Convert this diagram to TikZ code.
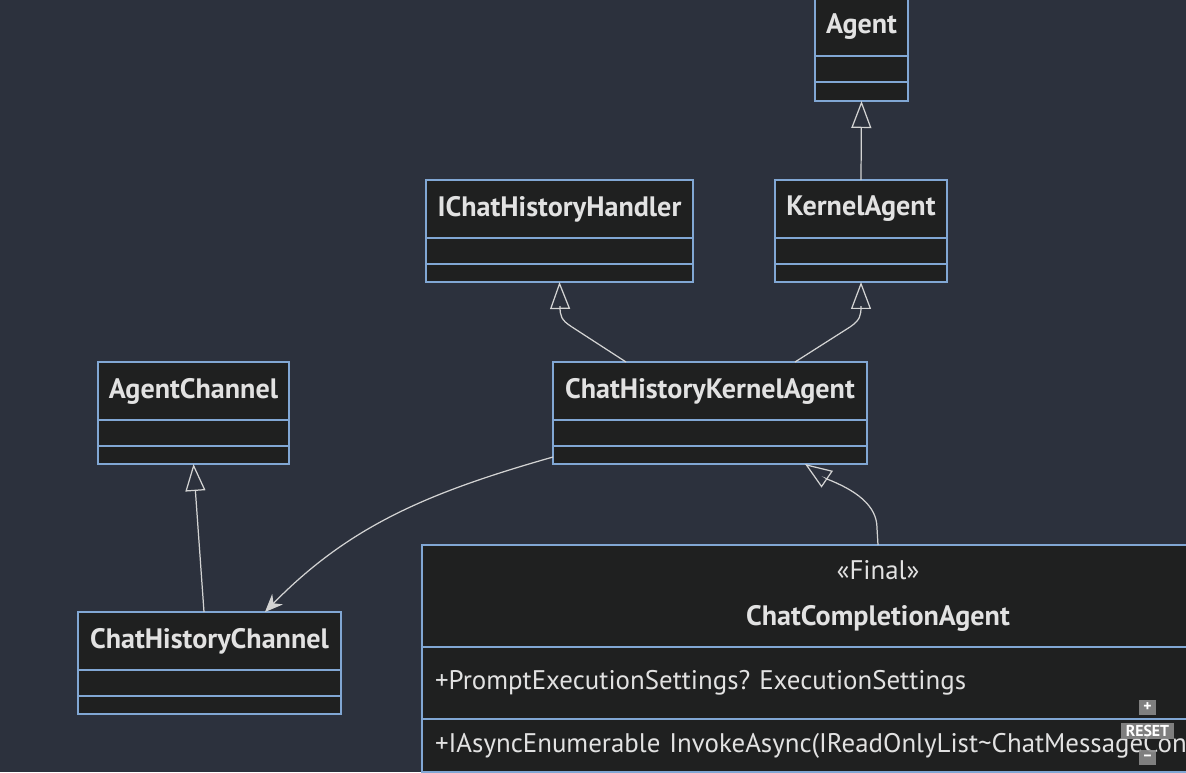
\documentclass[tikz,border=0pt]{standalone}
\usepackage{fontspec}
\setmainfont{PT Sans}
\usetikzlibrary{positioning,arrows.meta}

\definecolor{canvas}{HTML}{2C313D}
\definecolor{boxfill}{HTML}{1F2020}
\definecolor{boxline}{HTML}{81A7D4}
\definecolor{inktext}{HTML}{E2E2E2}
\definecolor{edgeline}{HTML}{D3D3D3}
\definecolor{btnfill}{HTML}{8A8A8A}

\frenchspacing

\begin{document}
\begin{tikzpicture}[
  x=0.02cm, y=-0.02cm,
  font=\fontsize{15.3}{18}\selectfont,
  classhead/.style={
    rectangle,
    draw=boxline,
    fill=boxfill,
    line width=0.8pt,
    text=inktext,
    font=\fontsize{16}{18}\selectfont\bfseries,
    minimum height=1.16cm,
    inner sep=0pt,
    outer sep=0pt,
    anchor=north
  },
  classattr/.style={
    rectangle,
    draw=boxline,
    fill=boxfill,
    line width=0.8pt,
    text=inktext,
    minimum height=0.52cm,
    inner sep=0pt,
    outer sep=0pt
  },
  classmeth/.style={
    classattr,
    minimum height=0.36cm
  },
  inherit/.style={
    -{Triangle[open, length=0.54cm, width=0.4cm]},
    draw=edgeline,
    line width=0.7pt
  },
  assoc/.style={
    -{Stealth[length=0.36cm, width=0.3cm]},
    draw=edgeline,
    line width=0.7pt
  },
  zoombtn/.style={
    rectangle,
    fill=btnfill,
    fill opacity=0.9,
    text opacity=1,
    text=white,
    font=\fontsize{9}{10}\selectfont\bfseries,
    inner sep=0pt,
    minimum width=0.34cm,
    minimum height=0.3cm
  }
]

% Canvas
\useasboundingbox (0,0) rectangle (1186,772);
\clip (0,0) rectangle (1186,772);
\fill[canvas] (0,0) rectangle (1186,772);

% Classes
\node[classhead, minimum width=1.86cm] (agent) at (861.5,-2) {Agent};
\node[classattr, minimum width=1.86cm, below=0pt of agent] (agentA) {};
\node[classmeth, minimum width=1.86cm, minimum height=0.38cm, below=0pt of agentA] (agentM) {};

\node[classhead, minimum width=5.34cm] (ichh) at (559.5,180) {IChatHistoryHandler};
\node[classattr, minimum width=5.34cm, below=0pt of ichh] (ichhA) {};
\node[classmeth, minimum width=5.34cm, below=0pt of ichhA] (ichhM) {};

\node[classhead, minimum width=3.44cm] (ka) at (861,180) {KernelAgent};
\node[classattr, minimum width=3.44cm, below=0pt of ka] (kaA) {};
\node[classmeth, minimum width=3.44cm, below=0pt of kaA] (kaM) {};

\node[classhead, minimum width=3.82cm] (ac) at (193.5,362) {AgentChannel};
\node[classattr, minimum width=3.82cm, below=0pt of ac] (acA) {};
\node[classmeth, minimum width=3.82cm, below=0pt of acA] (acM) {};

\node[classhead, minimum width=6.28cm] (chka) at (710,362) {ChatHistoryKernelAgent};
\node[classattr, minimum width=6.28cm, below=0pt of chka] (chkaA) {};
\node[classmeth, minimum width=6.28cm, below=0pt of chkaA] (chkaM) {};

\node[classhead, minimum width=5.26cm] (chc) at (209.5,612) {ChatHistoryChannel};
\node[classattr, minimum width=5.26cm, below=0pt of chc] (chcA) {};
\node[classmeth, minimum width=5.26cm, below=0pt of chcA] (chcM) {};

\node[classhead, minimum width=18.24cm, minimum height=2.04cm, align=center] (cca) at (878,545)
  {{\mdseries\fontsize{15.3}{18}\selectfont «Final»}\\[0.3cm]ChatCompletionAgent};
\node[classattr, minimum width=18.24cm, minimum height=1.44cm, text width=17.72cm, align=left, below=0pt of cca] (ccaA)
  {+PromptExecutionSettings? ExecutionSettings};
\node[classattr, minimum width=18.24cm, minimum height=1.06cm, text width=17.72cm, align=left, below=0pt of ccaA] (ccaM)
  {\mbox{+IAsyncEnumerable InvokeAsync(IReadOnlyList\textasciitilde ChatMessageContent\textasciitilde{} history)}};

% Inheritance
\draw[inherit] (ka.north) -- (agentM.south);
\draw[inherit] ([xshift=-1.68cm]chka.north) -- (572,327) .. controls (561,320) and (560,316) .. (560,306) -- (ichhM.south);
\draw[inherit] ([xshift=1.7cm]chka.north) -- (850,327) .. controls (860,320) and (861,316) .. (861,306) -- (kaM.south);
\draw[inherit] ([xshift=-0.11cm]chc.north) -- (acM.south);
\draw[inherit] (cca.north) -- (877,528) .. controls (877,505) and (855,490) .. (827,479) -- ([xshift=1.9cm]chkaM.south);

% Association
\draw[assoc] ([yshift=-0.04cm]chkaM.west) .. controls (430,492) and (350,525) .. ([xshift=1.11cm]chc.north);

% Zoom controls
\node[zoombtn] (zoomIn) at (1147.5,707.5) {+};
\node[zoombtn, minimum width=1.06cm, minimum height=0.32cm] (resetBtn) at (1147.5,731) {RESET};
\node[zoombtn] (zoomOut) at (1147.5,757.5) {–};

\end{tikzpicture}
\end{document}
